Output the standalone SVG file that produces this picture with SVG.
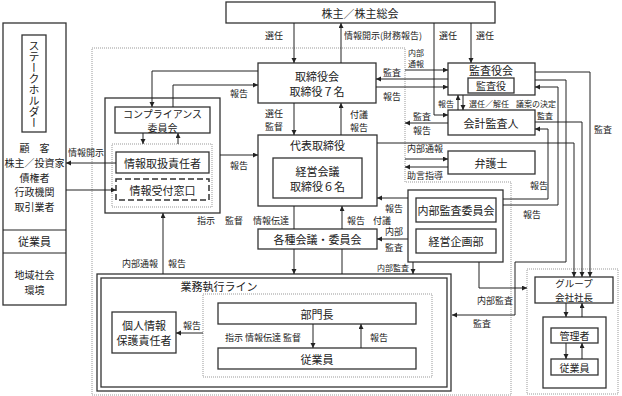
<svg xmlns="http://www.w3.org/2000/svg" width="622" height="396" viewBox="0 0 622 396">
<defs>
<marker id="ah" markerUnits="userSpaceOnUse" markerWidth="6" markerHeight="6" refX="5" refY="2.5" orient="auto">
<path d="M0,0 L5,2.5 L0,5 z" fill="#222"/>
</marker>
<style>
.b{fill:#fff;stroke:#333;stroke-width:1.3}
.bn{fill:none;stroke:#333;stroke-width:1.3}
.dot{fill:none;stroke:#999;stroke-width:1;stroke-dasharray:1,1}
.dash{fill:#fff;stroke:#333;stroke-width:1.5;stroke-dasharray:6,3}
.c{fill:none;stroke:#222;stroke-width:1}
.a{fill:none;stroke:#222;stroke-width:1;marker-end:url(#ah)}
text{font-family:"Noto Sans CJK JP","Liberation Serif",sans-serif;fill:#222;dominant-baseline:central}
.t{font-size:11px;text-anchor:middle}
.s{font-size:10px;text-anchor:middle}
.g{font-size:9.5px;text-anchor:middle}
.l{font-size:9px}
.ls{font-size:8px}
</style>
</defs>
<rect width="622" height="396" fill="#fff"/>

<!-- dotted company boundary -->
<path class="dot" d="M92,48 H405 V182 H511 V395 H92 Z"/>
<rect class="dot" x="527" y="269" width="91" height="125"/>

<g id="shareholders">
<rect class="b" x="226" y="2" width="269" height="21"/>
<text class="t" x="360" y="13">株主／株主総会</text>
</g>

<g id="stakeholders">
<rect class="b" x="3" y="23" width="63" height="282"/>
<line class="c" x1="3" y1="230" x2="66" y2="230"/>
<line class="c" x1="3" y1="253" x2="66" y2="253"/>
<rect class="b" x="22" y="35" width="24" height="97"/>
<text class="t" x="34" y="84" style="writing-mode:vertical-rl;dominant-baseline:central">ステークホルダー</text>
<text class="s" x="34.5" y="147">顧　客</text>
<text class="s" x="34.5" y="162.5">株主／投資家</text>
<text class="s" x="34.5" y="177">債権者</text>
<text class="s" x="34.5" y="191.5">行政機関</text>
<text class="s" x="34.5" y="206">取引業者</text>
<text class="t" x="34.5" y="241">従業員</text>
<text class="s" x="34.5" y="274">地域社会</text>
<text class="s" x="34.5" y="289">環境</text>
</g>

<g id="board">
<rect class="b" x="258" y="63" width="118" height="40"/>
<text class="t" x="317" y="75.5">取締役会</text>
<text class="t" x="317" y="90.5">取締役７名</text>
</g>

<g id="auditors">
<rect class="b" x="448" y="63" width="87" height="32"/>
<text class="t" x="491" y="70">監査役会</text>
<rect class="b" x="468" y="78" width="46" height="15"/>
<text class="s" x="491" y="85.5">監査役</text>
</g>

<g id="accounting-auditor">
<rect class="b" x="448" y="110" width="87" height="25"/>
<text class="t" x="491" y="122.5">会計監査人</text>
</g>

<g id="lawyer">
<rect class="b" x="448" y="151" width="87" height="23"/>
<text class="t" x="491" y="162.5">弁護士</text>
</g>

<g id="compliance">
<rect class="b" x="105" y="98" width="115" height="115"/>
<rect class="b" x="115" y="107" width="95" height="26"/>
<text class="s" x="162.5" y="113.5">コンプライアンス</text>
<text class="s" x="162.5" y="127">委員会</text>
<rect class="dot" x="112" y="144" width="100" height="63"/>
<rect class="b" x="116" y="152" width="93" height="21"/>
<text class="t" x="162.5" y="163">情報取扱責任者</text>
<rect class="dash" x="116" y="179" width="93" height="21"/>
<text class="t" x="162.5" y="189.5">情報受付窓口</text>
</g>

<g id="representative">
<rect class="b" x="258" y="135" width="119" height="71"/>
<text class="t" x="317.5" y="145">代表取締役</text>
<rect class="b" x="273" y="158" width="89" height="40"/>
<text class="t" x="317.5" y="171">経営会議</text>
<text class="t" x="317.5" y="185.5">取締役６名</text>
</g>

<g id="committees">
<rect class="b" x="258" y="229" width="119" height="20"/>
<text class="t" x="317.5" y="239">各種会議・委員会</text>
</g>

<g id="internal-audit">
<rect class="b" x="408" y="190" width="95" height="72"/>
<rect class="b" x="416" y="198" width="80" height="24"/>
<text class="t" x="456" y="210">内部監査委員会</text>
<rect class="b" x="416" y="229" width="80" height="24"/>
<text class="t" x="456" y="241">経営企画部</text>
</g>

<g id="business-line">
<rect class="bn" x="97" y="274" width="354" height="117"/>
<rect class="bn" x="101" y="278" width="346" height="109"/>
<text class="t" x="219" y="286">業務執行ライン</text>
<rect class="dot" x="203" y="294" width="229" height="83"/>
</g>

<g id="privacy">
<rect class="b" x="112" y="312" width="64" height="41"/>
<text class="t" x="144" y="325">個人情報</text>
<text class="t" x="144" y="340">保護責任者</text>
</g>

<g id="dept-head">
<rect class="b" x="218" y="303" width="198" height="21"/>
<text class="t" x="317" y="313.5">部門長</text>
</g>

<g id="employees">
<rect class="b" x="218" y="348" width="198" height="21"/>
<text class="t" x="317" y="358.5">従業員</text>
</g>

<g id="group-president">
<rect class="b" x="535" y="277" width="78" height="26"/>
<text class="g" x="574" y="282.5">グループ</text>
<text class="g" x="574" y="296.5">会社社長</text>
</g>

<g id="group-inner">
<rect class="b" x="543" y="317" width="63" height="71"/>
<rect class="b" x="551" y="328" width="47" height="15"/>
<text class="s" x="574.5" y="335.5">管理者</text>
<rect class="b" x="551" y="359" width="47" height="16"/>
<text class="s" x="574.5" y="367">従業員</text>
</g>

<g id="connectors">
<path class="a" d="M294,23 V63"/>
<path class="a" d="M341,63 V23"/>
<path class="a" d="M434,23 V115 H448"/>
<path class="a" d="M471,23 V63"/>
<path class="a" d="M405,70 H448"/>
<path class="a" d="M448,79 H376"/>
<path class="a" d="M376,87 H448"/>
<path class="a" d="M258,71 H152 V107"/>
<path class="a" d="M173,107 V85 H258"/>
<path class="a" d="M294,103 V135"/>
<path class="a" d="M341,135 V103"/>
<path class="a" d="M458,110 V95"/>
<path class="a" d="M463,95 V110"/>
<path class="a" d="M448,123 H405"/>
<path class="a" d="M143,133 V144"/>
<path class="a" d="M178,144 V133"/>
<path class="a" d="M116,163 H66"/>
<path class="a" d="M66,190 H116"/>
<path class="a" d="M220,155 H258"/>
<path class="a" d="M377,143 H574 V277"/>
<path class="a" d="M405,159 H448"/>
<path class="a" d="M448,167 H405"/>
<path class="a" d="M408,198 H377"/>
<path class="a" d="M408,239 H377"/>
<path class="c" d="M294,206 V229"/>
<path class="a" d="M342,229 V206"/>
<path class="a" d="M294,249 V274"/>
<path class="c" d="M342,274 V249"/>
<path class="a" d="M163,274 V213"/>
<path class="a" d="M413,262 V274"/>
<path class="a" d="M479,262 V288 H527"/>
<path class="a" d="M503,199 H548 V129 H535"/>
<path class="a" d="M503,205 H558 V87 H535"/>
<path class="a" d="M535,72 H590 V277"/>
<path class="a" d="M535,122 H582 V277"/>
<path class="a" d="M535,80 H566 V262 H515 V315 H452"/>
<path class="a" d="M203,333 H176"/>
<path class="a" d="M313,324 V348"/>
<path class="a" d="M361,348 V324"/>
<path class="a" d="M566,303 V317"/>
<path class="a" d="M582,317 V303"/>
<path class="a" d="M566,343 V359"/>
<path class="a" d="M582,359 V343"/>
</g>

<g id="labels">
<text class="l" x="265" y="35">選任</text>
<text class="l" x="344" y="35">情報開示(財務報告)</text>
<text class="l" x="439" y="35">選任</text>
<text class="l" x="476" y="35">選任</text>
<text class="ls" x="408" y="52">内部</text>
<text class="ls" x="408" y="63">通報</text>
<text class="l" x="383" y="72">監査</text>
<text class="l" x="383" y="96">報告</text>
<text class="l" x="230" y="93">報告</text>
<text class="l" x="265" y="113">選任</text>
<text class="l" x="265" y="126">監督</text>
<text class="l" x="350" y="114">付議</text>
<text class="l" x="350" y="127">報告</text>
<text class="ls" x="438" y="103">報告</text>
<text class="ls" x="469" y="103">選任／解任</text>
<text class="ls" x="516" y="103">議案の決定</text>
<text class="l" x="413" y="116">監査</text>
<text class="l" x="413" y="130">報告</text>
<text class="ls" x="537" y="115">監査</text>
<text class="l" x="594" y="129">監査</text>
<text class="l" x="68" y="152">情報開示</text>
<text class="l" x="230" y="165">報告</text>
<text class="l" x="407" y="148">内部通報</text>
<text class="l" x="407" y="175">助言指導</text>
<text class="l" x="530" y="185">報告</text>
<text class="l" x="523" y="214">報告</text>
<text class="l" x="385" y="208">報告</text>
<text class="l" x="197" y="220">指示</text>
<text class="l" x="225" y="220">監督</text>
<text class="l" x="253" y="220">情報伝達</text>
<text class="l" x="347" y="220">報告</text>
<text class="l" x="373" y="220">付議</text>
<text class="l" x="385" y="231">内部</text>
<text class="l" x="385" y="247">監査</text>
<text class="ls" x="377" y="267">内部監査</text>
<text class="l" x="122" y="263">内部通報</text>
<text class="l" x="168" y="263">報告</text>
<text class="l" x="477" y="300">内部監査</text>
<text class="l" x="473" y="323">監査</text>
<text class="l" x="183" y="325">報告</text>
<text class="l" x="225" y="337">指示 情報伝達 監督</text>
<text class="l" x="370" y="337">報告</text>
</g>
</svg>
